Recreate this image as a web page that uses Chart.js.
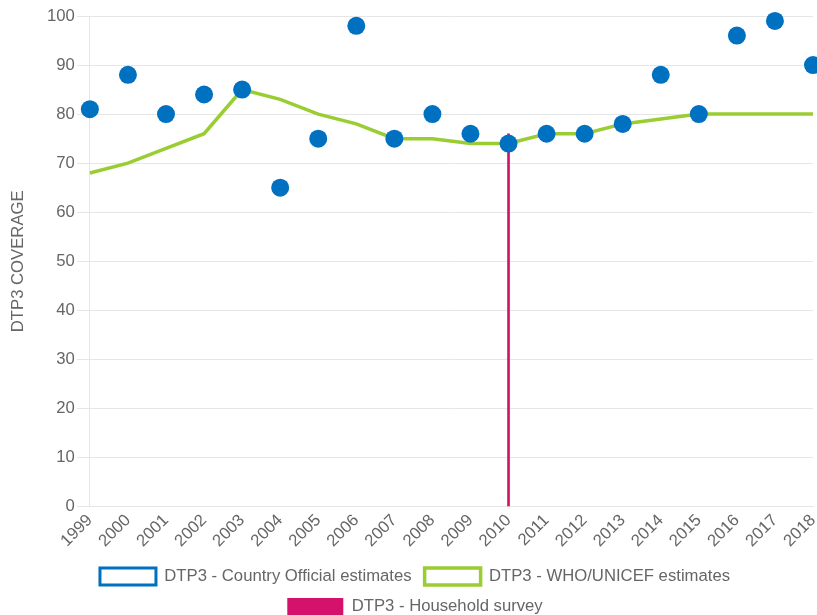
<!DOCTYPE html>
<html>
<head>
<meta charset="utf-8">
<script src="https://cdn.jsdelivr.net/npm/chart.js@4"></script>
<style>
  html, body { margin: 0; padding: 0; background: #fff; overflow: hidden; }
  /* the original chart is a little wider than the picture and gets cut on the right */
  #wrap { width: 822px; height: 615px; }
</style>
</head>
<body>
<div id="wrap"><canvas id="dtp3"></canvas></div>
<script>
// years on the x axis
const years = ['1999','2000','2001','2002','2003','2004','2005','2006','2007','2008',
  '2009','2010','2011','2012','2013','2014','2015','2016','2017','2018']

// reported by the country
const official = [81, 88, 80, 84, 85, 65, 75, 98, 75, 80, 76, 74, 76, 76, 78, 88, 80, 96, 99, 90]

// WHO/UNICEF estimates
const whoUnicef = [68, 70, 73, 76, 85, 83, 80, 78, 75, 75, 74, 74, 76, 76, 78, 79, 80, 80, 80, 80]

// survey only in 2010
const survey = [null, null, null, null, null, null, null, null, null, null,
  null, 76, null, null, null, null, null, null, null, null]

const blue = '#0070c0'
const green = '#9acd32'
const pink = '#d4116b'

Chart.defaults.font.family = 'Arial, "Liberation Sans", sans-serif'
Chart.defaults.font.size = 16.7
Chart.defaults.color = '#666'

const config = {
  type: 'line',
  data: {
    labels: years,
    datasets: [{
      label: 'DTP3 - Country Official estimates',
      data: official,
      showLine: false,
      backgroundColor: '#fff',
      borderColor: blue,
      borderWidth: 3,
      pointBackgroundColor: blue,
      pointBorderColor: blue,
      pointBorderWidth: 0,
      pointRadius: 9,
      pointHoverRadius: 9,
      clip: false,
      order: 1
    }, {
      label: 'DTP3 - WHO/UNICEF estimates',
      data: whoUnicef,
      backgroundColor: '#fff',
      borderColor: green,
      borderWidth: 3.5,
      pointRadius: 0,
      tension: 0,
      fill: false,
      order: 2
    }, {
      type: 'bar',
      label: 'DTP3 - Household survey',
      data: survey,
      backgroundColor: pink,
      borderColor: pink,
      borderWidth: 0,
      barThickness: 2,
      order: 3
    }]
  },
  options: {
    responsive: true,
    maintainAspectRatio: false,
    animation: false,
    layout: { padding: { top: 16, right: 0, left: 8, bottom: -10 } },
    plugins: {
      legend: {
        position: 'bottom',
        labels: {
          boxWidth: 56,
          boxHeight: 17,
          padding: 13,
          color: '#666'
        }
      },
      tooltip: { enabled: false }
    },
    scales: {
      x: {
        offset: false,
        grid: { display: false, drawTicks: false },
        border: { color: '#e6e6e6' },
        ticks: { minRotation: 45, maxRotation: 45, autoSkip: false, padding: 4 },
        afterFit: function (scale) { scale.paddingRight = 0 }
      },
      y: {
        min: 0,
        max: 100,
        ticks: { stepSize: 10, padding: 2 },
        grid: { color: '#e6e6e6', tickLength: 13 },
        border: { color: '#e6e6e6' },
        title: { display: true, text: 'DTP3 COVERAGE', padding: { top: 0, bottom: 17 } }
      }
    }
  }
}

const chart = new Chart(document.getElementById('dtp3'), config)
</script>
</body>
</html>
